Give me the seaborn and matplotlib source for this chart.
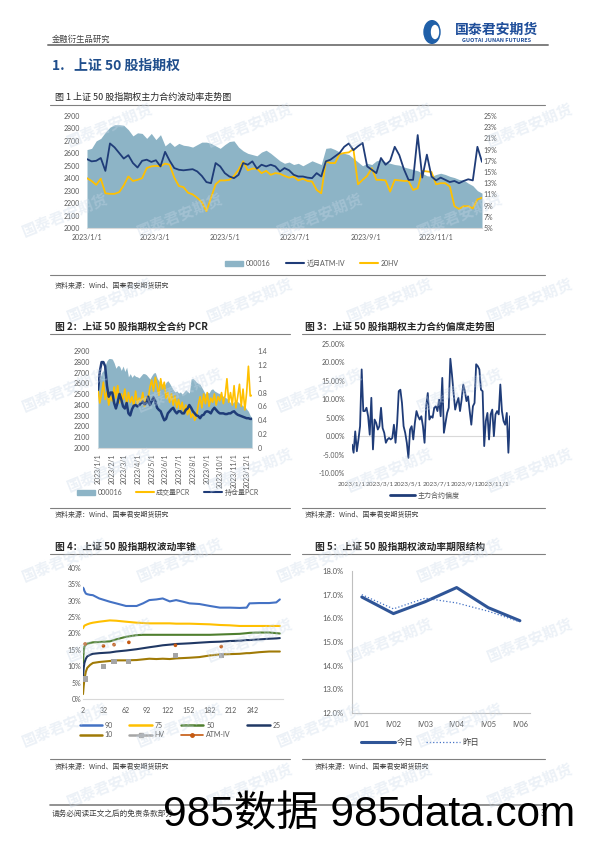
import numpy as np
import pandas as pd
import matplotlib.pyplot as plt
from matplotlib.lines import Line2D
from matplotlib.patches import Patch, Circle, Ellipse
import seaborn as sns

# ---------------- data ----------------
# fig 1 / fig 2 : daily series sampled every 4 days, 2023-01-01 .. 2023-12-11
dates = pd.date_range('2023-01-01', '2023-12-11', freq='4D')

index_000016 = [2630, 2640, 2700, 2720, 2770, 2810, 2830, 2830, 2825, 2790,
                2740, 2765, 2760, 2720, 2760, 2710, 2750, 2660, 2690, 2655,
                2680, 2665, 2660, 2650, 2670, 2690, 2690, 2680, 2660, 2640,
                2670, 2695, 2700, 2650, 2620, 2600, 2590, 2580, 2610, 2625,
                2600, 2570, 2540, 2520, 2530, 2510, 2520, 2500, 2520, 2540,
                2525, 2510, 2640, 2645, 2630, 2610, 2600, 2590, 2560, 2530,
                2500, 2520, 2510, 2540, 2550, 2530, 2520, 2510, 2505, 2490,
                2480, 2470, 2460, 2440, 2420, 2415, 2430, 2440, 2430, 2415,
                2405, 2390, 2385, 2360, 2340, 2300, 2280]

atm_iv = [17.3, 16.9, 17.0, 17.5, 15.2, 20.1, 19.4, 18.4, 17.4, 18.0,
          16.6, 15.8, 17.0, 17.2, 16.8, 17.1, 16.0, 18.6, 17.0, 15.7,
          15.4, 15.3, 15.4, 15.5, 15.1, 14.3, 13.2, 13.0, 16.6, 16.0,
          14.8, 14.2, 13.9, 14.5, 16.6, 16.3, 16.9, 15.6, 16.3, 16.0,
          16.3, 16.0, 15.1, 15.7, 15.3, 14.5, 14.2, 14.2, 14.0, 13.9,
          14.8, 14.2, 16.9, 17.2, 17.8, 18.4, 19.5, 20.1, 18.9, 19.6,
          20.2, 16.0, 15.4, 14.8, 17.5, 16.3, 17.0, 19.5, 18.0, 15.5,
          13.6, 13.6, 21.6, 14.0, 18.1, 14.2, 13.5, 14.0, 13.6, 13.2,
          13.4, 13.0, 13.4, 13.7, 13.5, 19.5, 16.8]

hv20 = [13.9, 13.4, 12.7, 13.8, 11.2, 11.1, 11.1, 11.4, 12.6, 14.2,
        13.4, 13.6, 13.9, 15.7, 16.0, 16.1, 16.0, 16.5, 16.3, 14.0,
        12.5, 12.3, 11.3, 11.0, 10.4, 9.6, 8.0, 10.4, 12.8, 13.5,
        13.5, 13.6, 14.3, 15.4, 16.9, 15.3, 15.6, 15.6, 14.8, 15.2,
        14.5, 14.8, 14.7, 14.3, 14.0, 14.2, 13.5, 13.8, 13.4, 13.3,
        11.8, 11.2, 16.9, 16.6, 16.6, 18.2, 18.4, 18.5, 19.1, 12.8,
        13.6, 14.3, 15.7, 13.6, 13.6, 13.5, 11.5, 13.6, 13.5, 13.4,
        13.4, 11.8, 12.1, 15.2, 15.1, 15.0, 12.8, 13.0, 13.0, 12.4,
        8.9, 8.4, 8.9, 8.9, 8.5, 10.1, 10.4]

pcr_volume = [0.85, 0.65, 0.78, 0.95, 0.70, 0.82, 0.62, 0.75, 0.68, 0.88,
              0.72, 0.90, 0.65, 0.78, 0.70, 0.85, 0.62, 0.80, 0.66, 0.74,
              0.60, 0.82, 0.64, 0.72, 0.66, 0.80, 0.60, 0.74, 0.70, 0.88,
              0.98, 0.82, 1.02, 0.90, 0.76, 1.00, 0.85, 0.95, 0.72, 0.80,
              0.66, 0.78, 0.62, 0.75, 0.58, 0.70, 0.55, 0.66, 0.50, 0.62,
              0.48, 0.58, 0.44, 0.50, 0.40, 0.46, 0.62, 0.74, 0.58, 0.78,
              0.64, 0.80, 0.60, 0.72, 0.66, 0.78, 0.62, 0.74, 0.68, 0.80,
              0.64, 0.76, 1.00, 0.66, 0.80, 0.62, 0.90, 0.58, 0.74, 0.92,
              0.60, 0.85, 0.55, 0.80, 1.18, 0.75, 0.76]

pcr_oi = [0.84, 1.10, 1.24, 1.24, 1.18, 0.90, 0.74, 0.80, 0.80, 0.65,
          0.57, 0.66, 0.78, 0.70, 0.60, 0.57, 0.65, 0.50, 0.47, 0.56,
          0.61, 0.62, 0.60, 0.62, 0.64, 0.67, 0.63, 0.65, 0.74, 0.62,
          0.67, 0.73, 0.67, 0.58, 0.55, 0.53, 0.46, 0.40, 0.42, 0.50,
          0.53, 0.56, 0.58, 0.53, 0.50, 0.53, 0.53, 0.50, 0.50, 0.55,
          0.57, 0.62, 0.58, 0.53, 0.50, 0.47, 0.46, 0.43, 0.47, 0.48,
          0.52, 0.53, 0.52, 0.50, 0.55, 0.58, 0.55, 0.52, 0.50, 0.50,
          0.50, 0.49, 0.49, 0.50, 0.50, 0.52, 0.53, 0.50, 0.48, 0.47,
          0.46, 0.45, 0.44, 0.43, 0.43, 0.42, 0.42]

# fig 3 : skew of main contract (%), 2023-01-01 .. 2023-12-06
skew = [-2.3, -4.5, 1.3, -4.1, -0.9, 2.7, 18.1, 6.8, 6.8, 7.7,
        5.4, 0.4, 10.4, -3.6, 4.5, 3.6, 1.8, 2.7, 7.7, 2.2,
        0.9, -1.8, -0.9, -0.5, -0.9, -0.5, 3.1, -1.8, 3.6, 12.2,
        12.6, 9.0, 2.7, 0.9, -1.8, -5.9, 1.8, 2.7, -0.9, 3.6,
        6.8, 5.4, 4.5, 5.4, 2.7, -1.8, 8.1, 11.7, 4.5, 5.4,
        5.0, 7.7, 8.1, 6.8, 9.9, 5.4, 15.8, 0.9, 3.6, 6.3,
        7.7, 21.0, 16.7, 11.7, 7.2, 9.0, 10.4, 6.8, 9.9, 14.0,
        12.2, 9.5, 10.8, 6.8, 3.1, 8.1, 9.0, 19.5, 19.0, 18.1,
        12.6, 12.2, -2.7, 4.1, 6.3, -0.9, 5.9, 7.2, 0.0, 5.9,
        6.8, 5.9, 14.0, 6.8, 4.1, 3.1, 6.3, -4.5, 5.4]
skew_dates = pd.date_range('2023-01-01', '2023-12-06', periods=len(skew))

# fig 4 : volatility cone (%)
cone_x = [2, 3, 4, 6, 8, 12, 16, 25, 40, 49, 63, 78, 87, 96, 106, 115,
          125, 134, 144, 153, 167, 182, 196, 210, 224, 234, 238, 252, 266, 276, 281]
cone_90 = [34.0, 33.7, 33.0, 32.2, 32.0, 31.8, 31.7, 30.7, 29.7, 29.2, 28.4, 28.4,
           29.2, 30.2, 30.4, 30.7, 29.8, 30.2, 29.7, 29.2, 29.0, 28.4, 27.9, 27.9,
           27.8, 27.9, 29.2, 29.3, 29.3, 29.5, 30.4]
cone_75 = [21.6, 22.0, 22.4, 22.6, 22.8, 23.1, 23.3, 23.6, 24.0, 23.9, 23.6, 23.3,
           23.2, 23.1, 23.1, 23.1, 23.1, 23.0, 23.0, 23.0, 22.9, 22.8, 22.6, 22.5,
           22.3, 22.3, 22.3, 22.3, 22.3, 22.3, 22.3]
cone_50 = [11.0, 14.5, 16.0, 16.6, 16.9, 17.1, 17.3, 17.4, 17.6, 18.2, 19.0, 19.5,
           19.6, 19.6, 19.6, 19.6, 19.6, 19.6, 19.6, 19.6, 19.6, 19.6, 19.7, 19.8,
           19.9, 20.1, 20.2, 20.3, 20.3, 20.1, 20.0]
cone_25 = [6.5, 9.5, 11.0, 12.3, 13.0, 13.5, 13.8, 14.0, 14.2, 14.5, 14.8, 15.2,
           15.5, 15.8, 16.1, 16.4, 16.6, 16.8, 16.9, 17.0, 17.2, 17.4, 17.5, 17.7,
           17.8, 18.0, 18.0, 18.2, 18.4, 18.5, 18.6]
cone_10 = [1.5, 4.0, 6.0, 8.3, 9.5, 10.4, 11.0, 11.3, 11.6, 11.8, 11.8, 11.9,
           12.1, 12.3, 12.2, 12.3, 12.2, 12.4, 12.5, 12.6, 12.8, 13.3, 13.6, 13.7,
           13.8, 14.0, 14.0, 14.3, 14.5, 14.5, 14.5]
expiry_days = [5, 31, 46, 67, 133, 198]
hv_points = [6.1, 9.9, 11.4, 11.4, 13.2, 13.2]
atm_points = [16.8, 16.2, 16.6, 17.3, 16.4, 16.0]

# fig 5 : term structure (%)
terms = ['IV01', 'IV02', 'IV03', 'IV04', 'IV05', 'IV06']
iv_today = [16.9, 16.2, 16.7, 17.3, 16.45, 15.9]
iv_yesterday = [17.0, 16.4, 16.85, 16.65, 16.3, 15.85]

# ---------------- style ----------------
sns.set_style('white')
plt.rcParams['font.family'] = ['Lato', 'Noto Sans CJK SC', 'DejaVu Sans']
plt.rcParams['axes.unicode_minus'] = False
CJK = ['Noto Sans CJK SC', 'DejaVu Sans']

AREA = '#8DB4C6'
NAVY = '#1F3C78'
GOLD = '#FFC000'
TXT = '#595959'
RULE = '#808080'

W, H = 595, 842
fig = plt.figure(figsize=(W / 100, H / 100), dpi=100)


def box(x0, y0, x1, y1):
    return fig.add_axes([x0 / W, 1 - y1 / H, (x1 - x0) / W, (y1 - y0) / H])


def hline(x0, x1, y, color=RULE, lw=0.8):
    fig.add_artist(Line2D([x0 / W, x1 / W], [1 - y / H, 1 - y / H], color=color, lw=lw))


def txt(x, y, s, size, **kw):
    kw.setdefault('family', CJK)
    return fig.text(x / W, 1 - y / H, s, fontsize=size, va='center', **kw)


def style(ax, size=5):
    for s in ax.spines.values():
        s.set_visible(False)
    ax.tick_params(length=0, labelsize=size, colors=TXT)
    ax.set_facecolor('none')
    ax.set_xlabel('')
    ax.set_ylabel('')


def date_labels(ts):
    return [f'{d.year}/{d.month}/{d.day}' for d in ts]


# faint company watermarks tiled over the page
for row, wy in enumerate([125, 215, 300, 390, 470, 560, 640, 725, 785]):
    for wx in ([110, 250, 390, 530] if row % 2 == 0 else [65, 180, 320, 460]):
        txt(wx, wy, '国泰君安期货', 11, color='#C9D8E8', weight='bold', ha='center',
            rotation=22, alpha=0.35, zorder=20)

# ---------------- page header ----------------
txt(52, 39, '金融衍生品研究', 6, color='#404040')
hline(48, 548, 45, color='#7F7F7F', lw=1.4)
fig.add_artist(Circle((432 / W, 1 - 32 / H), 8 / W, transform=fig.transFigure,
                      color='#1F5FA8', zorder=5))
fig.add_artist(Ellipse((435 / W, 1 - 32 / H), 7 / W, 13 / H, transform=fig.transFigure,
                       color='white', zorder=6))
txt(497, 30, '国泰君安期货', 10, color='#1F4E9A', weight='bold', ha='center')
txt(497, 40, 'GUOTAI JUNAN FUTURES', 4, color='#1F4E9A', weight='bold', ha='center')
txt(52, 66, '1.   上证 50 股指期权', 10, color='#1F4E8C', weight='bold')

# ---------------- fig 1 ----------------
txt(55, 97, '图 1 上证 50 股指期权主力合约波动率走势图', 6.5, color='#262626')
hline(50, 545, 105)
ax1 = box(87, 116, 482, 228)
ax1.fill_between(dates, index_000016, 2000, color=AREA, lw=0)
ax1.set_ylim(2000, 2900)
ax1.set_yticks(range(2000, 2901, 100))
ax1.set_xlim(dates[0], dates[-1])
t1 = pd.to_datetime(['2023-01-01', '2023-03-01', '2023-05-01', '2023-07-01',
                     '2023-09-01', '2023-11-01'])
ax1.set_xticks(t1)
ax1.set_xticklabels(date_labels(t1))
style(ax1)
ax1.spines['bottom'].set_visible(True)
ax1.spines['bottom'].set_color('#D9D9D9')
ax1.tick_params(axis='y', pad=5)
ax1.tick_params(axis='x', pad=4)
ax1r = ax1.twinx()
sns.lineplot(x=dates, y=hv20, ax=ax1r, color=GOLD, lw=1.3, legend=False)
sns.lineplot(x=dates, y=atm_iv, ax=ax1r, color=NAVY, lw=1.3, legend=False)
ax1r.set_ylim(5, 25)
ax1r.set_yticks(range(5, 26, 2))
ax1r.set_yticklabels([f'{v}%' for v in range(5, 26, 2)])
style(ax1r)
ax1r.tick_params(axis='y', pad=1)
fig.legend([Patch(color=AREA), Line2D([], [], color=NAVY, lw=1.5), Line2D([], [], color=GOLD, lw=1.5)],
           ['000016', '近月ATM-IV', '20HV'], loc='center', bbox_to_anchor=(312 / W, 1 - 263 / H),
           ncol=3, frameon=False, fontsize=5, labelcolor=TXT, handlelength=2.6,
           columnspacing=2.2, handletextpad=0.4)
hline(50, 545, 275)
txt(55, 286, '资料来源：Wind、国泰君安期货研究', 5, color='#404040')

# ---------------- fig 2 ----------------
txt(55, 327, '图 2：上证 50 股指期权全合约 PCR', 7, color='#262626', weight='bold')
hline(50, 290, 334)
ax2 = box(98, 351, 252, 448)
ax2.fill_between(dates, index_000016, 2000, color=AREA, lw=0)
ax2.set_ylim(2000, 2900)
ax2.set_yticks(range(2000, 2901, 100))
ax2.set_xlim(dates[0], dates[-1])
t2 = pd.date_range('2023-01-01', '2023-12-01', freq='MS')
ax2.set_xticks(t2)
ax2.set_xticklabels(date_labels(t2), rotation=90)
style(ax2)
ax2.spines['bottom'].set_visible(True)
ax2.spines['bottom'].set_color('#D9D9D9')
ax2.tick_params(axis='y', pad=6)
ax2.tick_params(axis='x', pad=2, length=2, color='#D9D9D9')
ax2r = ax2.twinx()
sns.lineplot(x=dates, y=pcr_volume, ax=ax2r, color=GOLD, lw=1.2, legend=False)
sns.lineplot(x=dates, y=pcr_oi, ax=ax2r, color=NAVY, lw=1.8, legend=False)
ax2r.set_ylim(0, 1.4)
ax2r.set_yticks(np.arange(0, 1.41, 0.2))
ax2r.set_yticklabels(['0', '0.2', '0.4', '0.6', '0.8', '1', '1.2', '1.4'])
style(ax2r)
ax2r.tick_params(axis='y', pad=4)
fig.legend([Patch(color=AREA), Line2D([], [], color=GOLD, lw=1.5), Line2D([], [], color=NAVY, lw=1.5)],
           ['000016', '成交量PCR', '持仓量PCR'], loc='center', bbox_to_anchor=(168 / W, 1 - 492 / H),
           ncol=3, frameon=False, fontsize=5, labelcolor=TXT, handlelength=2.6,
           columnspacing=2.0, handletextpad=0.3)
hline(50, 290, 508)
txt(55, 515, '资料来源：Wind、国泰君安期货研究', 5, color='#404040')

# ---------------- fig 3 ----------------
txt(305, 327, '图 3：上证 50 股指期权主力合约偏度走势图', 7, color='#262626', weight='bold')
hline(302, 545, 334)
ax3 = box(352, 344, 510, 473)
ax3.axhline(0, color='#D9D9D9', lw=0.8, zorder=0)
sns.lineplot(x=skew_dates, y=skew, ax=ax3, color=NAVY, lw=1.3, legend=False)
ax3.set_ylim(-10, 25)
ax3.set_yticks(range(-10, 26, 5))
ax3.set_yticklabels([f'{v:.2f}%' for v in range(-10, 26, 5)])
ax3.set_xlim(skew_dates[0], skew_dates[-1])
ax3.set_xticks(t1)
ax3.set_xticklabels(date_labels(t1))
style(ax3)
ax3.tick_params(axis='y', pad=5)
ax3.tick_params(axis='x', pad=6, labelsize=4.6)
fig.legend([Line2D([], [], color=NAVY, lw=2)], ['主力合约偏度'], loc='center',
           bbox_to_anchor=(425 / W, 1 - 495 / H), frameon=False, fontsize=5,
           labelcolor=TXT, handlelength=3.5, handletextpad=0.4)
hline(302, 545, 508)
txt(305, 515, '资料来源：Wind、国泰君安期货研究', 5, color='#404040')

# ---------------- fig 4 ----------------
txt(55, 547, '图 4：上证 50 股指期权波动率锥', 7, color='#262626', weight='bold')
hline(50, 290, 554)
ax4 = box(83, 568, 283, 699)
cone = [('90', cone_90, '#4472C4'), ('75', cone_75, '#FFC000'), ('50', cone_50, '#4F7F2F'),
        ('25', cone_25, '#203864'), ('10', cone_10, '#A07A06')]
for name, vals, col in cone:
    sns.lineplot(x=cone_x, y=vals, ax=ax4, color=col, lw=1.5, legend=False)
sns.scatterplot(x=expiry_days, y=hv_points, ax=ax4, marker='s', color='#A5A5A5', s=14,
                edgecolor='none', legend=False, zorder=5)
sns.scatterplot(x=expiry_days, y=atm_points, ax=ax4, marker='o', color='#C55A11', s=7,
                edgecolor='none', legend=False, zorder=5)
ax4.set_ylim(0, 40)
ax4.set_yticks(range(0, 41, 5))
ax4.set_yticklabels([f'{v}%' for v in range(0, 41, 5)])
ax4.set_xlim(2, 285.5)
ax4.set_xticks(range(2, 243, 30))
style(ax4)
ax4.spines['bottom'].set_visible(True)
ax4.spines['bottom'].set_color('#D9D9D9')
ax4.tick_params(axis='y', pad=1)
ax4.tick_params(axis='x', pad=6)
hd = {n: Line2D([], [], color=c, lw=1.8) for n, v, c in cone}
hd['HV'] = Line2D([], [], color='#A5A5A5', lw=1.8, marker='s', ms=3.5)
hd['ATM-IV'] = Line2D([], [], color='#C55A11', lw=1.2, marker='o', ms=2.5)
order = ['90', '10', '75', 'HV', '50', 'ATM-IV', '25']
fig.legend([hd[k] for k in order], order, loc='center', bbox_to_anchor=(180 / W, 1 - 730 / H),
           ncol=4, frameon=False, fontsize=5, labelcolor=TXT, handlelength=3.2,
           columnspacing=2.4, handletextpad=0.4, labelspacing=0.4)
hline(50, 290, 759)
txt(55, 767, '资料来源：Wind、国泰君安期货研究', 5, color='#404040')

# ---------------- fig 5 ----------------
txt(315, 547, '图 5：上证 50 股指期权波动率期限结构', 7, color='#262626', weight='bold')
hline(302, 545, 554)
ax5 = box(352, 571, 530, 713)
sns.lineplot(x=range(len(terms)), y=iv_today, ax=ax5, color='#2F5597', lw=2.2, legend=False)
sns.lineplot(x=range(len(terms)), y=iv_yesterday, ax=ax5, color='#4472C4', lw=0.9,
             linestyle=':', legend=False)
ax5.set_ylim(12, 18)
ax5.set_yticks(range(12, 19))
ax5.set_yticklabels([f'{v:.1f}%' for v in range(12, 19)])
ax5.set_xlim(-0.31, 5.32)
ax5.set_xticks(range(len(terms)))
ax5.set_xticklabels(terms)
style(ax5, 5.5)
for s in ('left', 'bottom'):
    ax5.spines[s].set_visible(True)
    ax5.spines[s].set_color('#BFBFBF')
ax5.tick_params(axis='y', length=3, color='#BFBFBF', pad=3)
ax5.tick_params(axis='x', pad=6)
fig.legend([Line2D([], [], color='#2F5597', lw=2.2), Line2D([], [], color='#4472C4', lw=0.9, ls=':')],
           ['今日', '昨日'], loc='center', bbox_to_anchor=(420 / W, 1 - 742 / H), ncol=2,
           frameon=False, fontsize=6, labelcolor='#404040', handlelength=4,
           columnspacing=1.5, handletextpad=0.3)
hline(302, 545, 759)
txt(315, 767, '资料来源：Wind、国泰君安期货研究', 5, color='#404040')

# ---------------- footer ----------------
hline(50, 548, 805, color='#7F7F7F', lw=1.2)
txt(52, 814, '请务必阅读正文之后的免责条款部分', 5.5, color='#404040')
txt(163, 815, '985数据 985data.com', 30.5, color='black', zorder=30,
    family=['Liberation Sans', 'Noto Sans CJK SC'])
txt(541, 814, '3', 6, color='#404040')

fig.savefig('out.png', dpi=100)
